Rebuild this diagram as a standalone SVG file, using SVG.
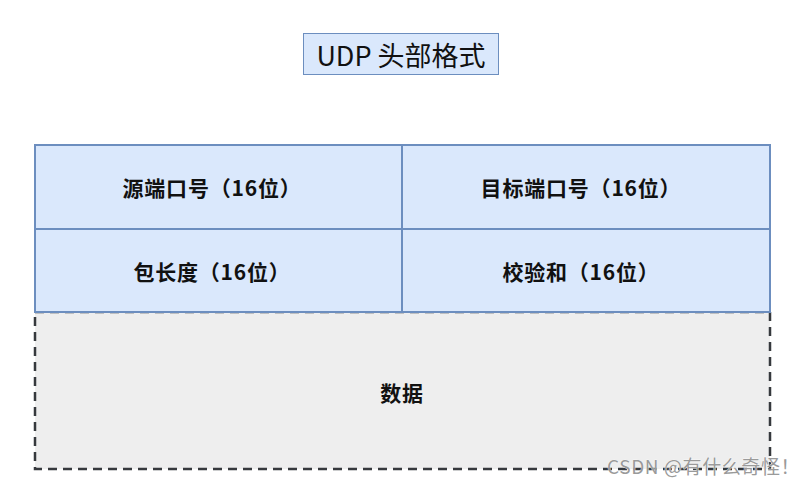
<svg xmlns="http://www.w3.org/2000/svg" width="806" height="486" viewBox="0 0 806 486">
<style>
.cell{fill:#dae8fc;stroke:#6c8ebf;stroke-width:2}
.data{fill:#eeeeee;stroke:#36393d;stroke-width:2.5;stroke-dasharray:9 6}
.lbl{font-family:"Noto Sans CJK SC","Noto Sans",sans-serif;font-size:21px;letter-spacing:0.8px;font-weight:bold;fill:#111;text-anchor:middle;dominant-baseline:central}
.title{font-family:"Noto Sans CJK SC","Noto Sans",sans-serif;font-size:27px;fill:#111;text-anchor:middle;dominant-baseline:central}
.wm{font-family:"Noto Sans CJK SC","Noto Sans",sans-serif;font-size:19px;letter-spacing:0.6px;fill:#9a9a9a;stroke:#ffffff;stroke-width:0.6;paint-order:stroke}
</style>
<rect width="806" height="486" fill="#ffffff"/>
<g id="title">
<rect x="303.5" y="33.5" width="195" height="41" fill="#dae8fc" stroke="#6c8ebf" stroke-width="1"/>
<text class="title" x="401" y="54">UDP 头部格式</text>
</g>
<g id="data">
<rect class="data" x="35" y="312" width="735" height="157"/>
<text class="lbl" x="402" y="392">数据</text>
</g>
<g id="src-port">
<rect class="cell" x="35" y="145" width="367" height="84"/>
<text class="lbl" x="212" y="187">源端口号（16位）</text>
</g>
<g id="dst-port">
<rect class="cell" x="402" y="145" width="368" height="84"/>
<text class="lbl" x="581" y="187">目标端口号（16位）</text>
</g>
<g id="length">
<rect class="cell" x="35" y="229" width="367" height="83"/>
<text class="lbl" x="212" y="271">包长度（16位）</text>
</g>
<g id="checksum">
<rect class="cell" x="402" y="229" width="368" height="83"/>
<text class="lbl" x="581" y="271">校验和（16位）</text>
</g>
<g id="connectors"></g>
<text class="wm" x="607" y="474">CSDN @有什么奇怪！</text>
</svg>
